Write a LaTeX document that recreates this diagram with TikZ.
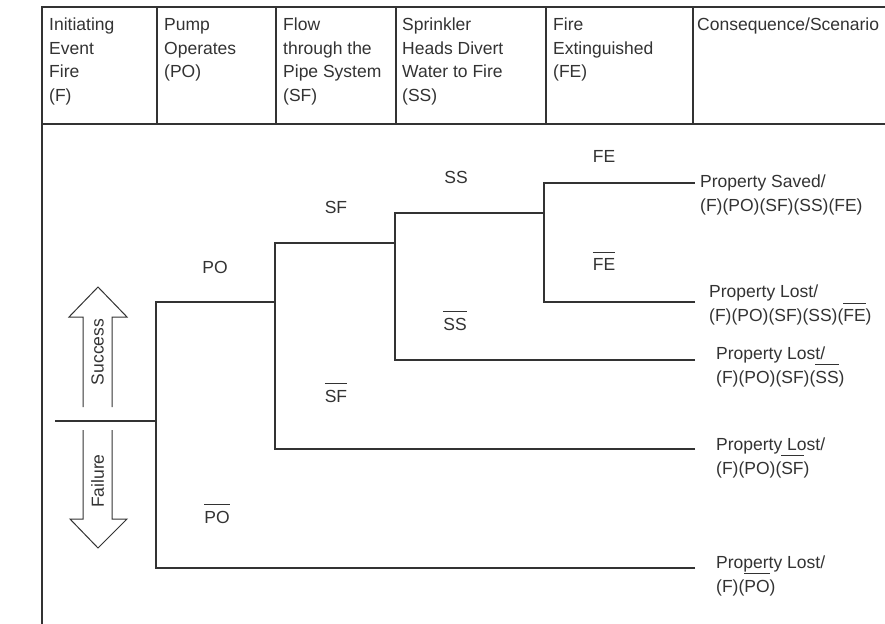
\documentclass[tikz,border=0pt]{standalone}
\usepackage{fontspec}
\setmainfont{Liberation Sans}
\newsavebox\obbox
\newcommand\ob[1]{\sbox\obbox{#1}\rlap{\raisebox{\dimexpr\ht\obbox+5.5pt\relax}{\rule{\wd\obbox}{0.9pt}}}\usebox\obbox}
\definecolor{ink}{HTML}{333333}
\begin{document}
\begin{tikzpicture}[x=1pt,y=-1pt,
  frame/.style={draw=ink,line width=1.1pt},
  branch/.style={draw=ink,line width=1.2pt},
  txt/.style={text=ink,inner sep=0pt,font=\fontsize{17.5}{23.5}\selectfont},
  head/.style={txt,anchor=base west},
  lbl/.style={txt,anchor=base},
  outc/.style={txt,anchor=base west,font=\fontsize{17.5}{24}\selectfont},
  bigarrow/.style={draw=ink,line width=1pt,fill=white,line join=miter}]
\useasboundingbox (0,0) rectangle (885,623);
\clip (0,0) rectangle (885,623);
\fill[white] (0,0) rectangle (885,623);
% table frame
\draw[frame] (42,640) -- (42,7) -- (900,7);
\draw[frame] (42,124) -- (900,124);
\foreach \x in {157,276,396,546,693} \draw[frame] (\x,7) -- (\x,124);
% headers
\node[head] (h1) at (49,31) {\vtop{\hbox{Initiating}\hbox{Event}\hbox{Fire}\hbox{(F)}}};
\node[head] (h2) at (164,31) {\vtop{\hbox{Pump}\hbox{Operates}\hbox{(PO)}}};
\node[head] (h3) at (283,31) {\vtop{\hbox{Flow}\hbox{through the}\hbox{Pipe System}\hbox{(SF)}}};
\node[head] (h4) at (402,31) {\vtop{\hbox{Sprinkler}\hbox{Heads Divert}\hbox{Water to Fire}\hbox{(SS)}}};
\node[head] (h5) at (553,31) {\vtop{\hbox{Fire}\hbox{Extinguished}\hbox{(FE)}}};
\node[head] (h6) at (697,31) {Consequence/Scenario};
% tree points
\coordinate (s0) at (55,421);
\coordinate (jF) at (156,421);
\coordinate (jPO) at (275,302);
\coordinate (jSF) at (395,243);
\coordinate (jSS) at (544,213);
\coordinate (e1) at (695,183);
\coordinate (e2) at (695,302);
\coordinate (e3) at (695,360);
\coordinate (e4) at (695,449);
\coordinate (e5) at (695,568);
\draw[branch] (s0) -- (jF);
\draw[branch] (e5) -| (jF) |- (jPO);
\draw[branch] (e4) -| (jPO) |- (jSF);
\draw[branch] (e3) -| (jSF) |- (jSS);
\draw[branch] (e2) -| (jSS) |- (e1);
% branch labels
\node[lbl] (lPO) at (215,273) {PO};
\node[lbl] (lPOb) at (217,523) {\ob{PO}};
\node[lbl] (lSF) at (336,213) {SF};
\node[lbl] (lSFb) at (336,402) {\ob{SF}};
\node[lbl] (lSS) at (456,183) {SS};
\node[lbl] (lSSb) at (455,330) {\ob{SS}};
\node[lbl] (lFE) at (604,162) {FE};
\node[lbl] (lFEb) at (604,270) {\ob{FE}};
% outcomes
\node[outc] (o1) at (700,187) {\vtop{\hbox{Property Saved/}\hbox{(F)(PO)(SF)(SS)(FE)}}};
\node[outc] (o2) at (709,297) {\vtop{\hbox{Property Lost/}\hbox{(F)(PO)(SF)(SS)(\ob{FE})}}};
\node[outc] (o3) at (716,359) {\vtop{\hbox{Property Lost/}\hbox{(F)(PO)(SF)(\ob{SS})}}};
\node[outc] (o4) at (716,450) {\vtop{\hbox{Property Lost/}\hbox{(F)(PO)(\ob{SF})}}};
\node[outc] (o5) at (716,568) {\vtop{\hbox{Property Lost/}\hbox{(F)(\ob{PO})}}};
% success / failure arrows
\draw[bigarrow] (83,407) -- (83,317) -- (69,317) -- (98,287) -- (127,317) -- (112,317) -- (112,407);
\draw[bigarrow] (83,430) -- (83,519) -- (70,519) -- (98,548) -- (127,519) -- (112,519) -- (112,430);
\node[txt,rotate=90] (succ) at (97.5,352) {Success};
\node[txt,rotate=90] (fail) at (97.5,481) {Failure};
\end{tikzpicture}
\end{document}
